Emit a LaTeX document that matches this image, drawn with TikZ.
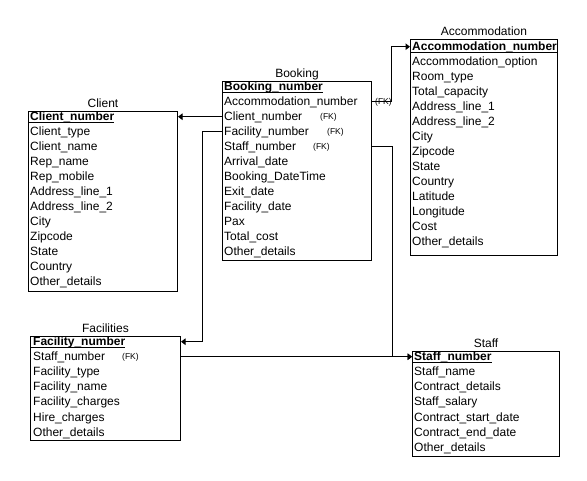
\documentclass[tikz,border=0pt]{standalone}
\usepackage{fontspec}
\setmainfont{Liberation Sans}
\usetikzlibrary{arrows.meta}
\begin{document}
\begin{tikzpicture}[x=1pt,y=-1pt,
  box/.style={draw, line width=1pt, inner sep=0pt, anchor=north west},
  row/.style={anchor=base west, inner sep=0pt, font=\fontsize{12}{14}\selectfont, text height=8.6pt, text depth=0pt},
  hdr/.style={row, font=\fontsize{12}{14}\selectfont\bfseries},
  ttl/.style={anchor=base, inner sep=0pt, font=\fontsize{12}{14}\selectfont, yshift=3.7pt},
  fk/.style={anchor=base west, inner sep=0pt, font=\fontsize{8.5}{10}\selectfont},
  uline/.style={line width=1pt},
  conn/.style={line width=1pt, -{Triangle[length=4.5pt,width=6.5pt]}}]
\fill[white] (0,0) rectangle (587,481);
\useasboundingbox (0,0) rectangle (587,481);

% Booking
\node[box, minimum width=149pt, minimum height=179pt] (bk) at (222,81) {};
\node[ttl] (bkt) at (bk.north) {Booking};
\node[hdr] (bk1) at (224,91) {Booking\_number};
\foreach \t [count=\i from 2] in {Accommodation\_number, Client\_number, Facility\_number, Staff\_number, Arrival\_date, Booking\_DateTime, Exit\_date, Facility\_date, Pax, Total\_cost, Other\_details}
  \node[row] (bk\i) at (224,{76+15*\i}) {\t};
\coordinate (bku) at ([yshift=-1.5pt]bk1.base west);
\draw[uline] (bk.west |- bku) -- (bku -| bk1.east);
\node[fk] (fka) at (375,104.9) {(FK)};
\node[fk] (fkc) at (320,119.9) {(FK)};
\node[fk] (fkf) at (327,134.9) {(FK)};
\node[fk] (fks) at (313,149.9) {(FK)};

% Client
\node[box, minimum width=149pt, minimum height=180pt] (cl) at (28,111) {};
\node[ttl] (clt) at (cl.north) {Client};
\node[hdr] (cl1) at (30,121) {Client\_number};
\foreach \t [count=\i from 2] in {Client\_type, Client\_name, Rep\_name, Rep\_mobile, Address\_line\_1, Address\_line\_2, City, Zipcode, State, Country, Other\_details}
  \node[row] (cl\i) at (30,{106+15*\i}) {\t};
\coordinate (clu) at ([yshift=-1.5pt]cl1.base west);
\draw[uline] (cl.west |- clu) -- (clu -| cl1.east);

% Accommodation
\node[box, minimum width=147pt, minimum height=216pt] (ac) at (410,39) {};
\node[ttl] (act) at (ac.north) {Accommodation};
\node[hdr] (ac1) at (412,51) {Accommodation\_number};
\foreach \t [count=\i from 2] in {Accommodation\_option, Room\_type, Total\_capacity, Address\_line\_1, Address\_line\_2, City, Zipcode, State, Country, Latitude, Longitude, Cost, Other\_details}
  \node[row] (ac\i) at (412,{36+15*\i}) {\t};
\coordinate (acu) at ([yshift=-1.5pt]ac1.base west);
\draw[uline] (ac.west |- acu) -- (acu -| ac1.east);

% Facilities
\node[box, minimum width=150pt, minimum height=104pt] (fa) at (30,336) {};
\node[ttl] (fat) at (fa.north) {Facilities};
\node[hdr] (fa1) at (33,346) {Facility\_number};
\foreach \t [count=\i from 2] in {Staff\_number, Facility\_type, Facility\_name, Facility\_charges, Hire\_charges, Other\_details}
  \node[row] (fa\i) at (33,{331+15*\i}) {\t};
\coordinate (fau) at ([yshift=-1.5pt]fa1.base west);
\draw[uline] (fa.west |- fau) -- (fau -| fa1.east);
\node[fk] (fkfs) at (122,359.9) {(FK)};

% Staff
\node[box, minimum width=147pt, minimum height=105pt] (st) at (412,351) {};
\node[ttl] (stt) at (st.north) {Staff};
\node[hdr] (st1) at (414,361) {Staff\_number};
\foreach \t [count=\i from 2] in {Staff\_name, Contract\_details, Staff\_salary, Contract\_start\_date, Contract\_end\_date, Other\_details}
  \node[row] (st\i) at (414,{346+15*\i}) {\t};
\coordinate (stu) at ([yshift=-1.5pt]st1.base west);
\draw[uline] (st.west |- stu) -- (stu -| st1.east);

% Connectors
\draw[conn] (bk.west |- bk3) -- (cl.east |- bk3);
\draw[conn] (bk.west |- bk4) -- ++(-20,0) |- (fa.east |- fa1);
\draw[conn] (bk.east |- bk2) -- ++(19.5,0) |- (ac.west |- ac1);
\draw[conn] (bk.east |- bk5) -- ++(20,0) |- (st.west |- st1);
\draw[conn] (fa.east |- fa2) -- (st.west |- fa2);
\end{tikzpicture}
\end{document}
